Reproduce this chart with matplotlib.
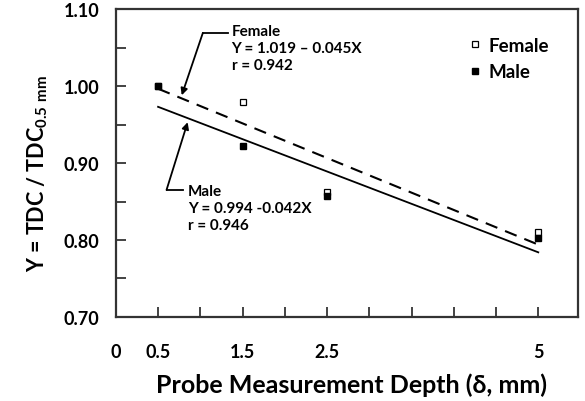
import numpy as np
import matplotlib
matplotlib.use('Agg')
import matplotlib.pyplot as plt

plt.rcParams['font.family'] = ['Lato', 'DejaVu Sans']
plt.rcParams['font.weight'] = 'bold'
plt.rcParams['mathtext.fontset'] = 'custom'
plt.rcParams['mathtext.rm'] = 'Lato'
plt.rcParams['mathtext.bf'] = 'Lato:bold'

# datos
depth = [0.5, 1.5, 2.5, 5]
female = [1.000, 0.979, 0.862, 0.810]
male = [1.000, 0.922, 0.857, 0.803]
female_fit = (1.019, -0.045)   # Y = a + bX
male_fit = (0.994, -0.042)
xtick_labels = {0: '0', 0.5: '0.5', 1.5: '1.5', 2.5: '2.5', 5: '5'}

fig = plt.figure(figsize=(5.85, 4.02), dpi=100)
ax = fig.add_axes([0.198, 0.209, 0.79, 0.766])

xx = np.array([depth[0], depth[-1]])
ax.plot(xx, female_fit[0] + female_fit[1] * xx, color='black', lw=1.5, ls=(0, (6, 4)))
ax.plot(xx, male_fit[0] + male_fit[1] * xx, color='black', lw=1.3)

ax.plot(depth, female, ls='none', marker='s', ms=4, mfc='white', mec='black', mew=0.9, label='Female')
ax.plot(depth, male, ls='none', marker='s', ms=4, mfc='black', mec='black', label='Male')

ax.set_xlim(0, 5.47)
ax.set_ylim(0.70, 1.10)
ticks = np.arange(0, 5.01, 0.5)
ax.set_xticks(ticks)
ax.set_xticklabels([xtick_labels.get(round(t, 1), '') for t in ticks], fontsize=13, fontweight='bold')
ax.set_yticks([0.70, 0.80, 0.90, 1.00, 1.10])
ax.set_yticklabels(['0.70', '0.80', '0.90', '1.00', '1.10'], fontsize=13, fontweight='bold')
ax.set_yticks([0.75, 0.85, 0.95, 1.05], minor=True)
ax.tick_params(axis='both', which='both', direction='in', length=7, width=1.2, color='#222222')
ax.tick_params(axis='x', pad=19)
ax.tick_params(axis='y', pad=12)
for s in ax.spines.values():
    s.set_color('#333333')
    s.set_linewidth(1.6)

ax.set_xlabel('Probe Measurement Depth (δ, mm)', fontsize=18, fontweight='bold', labelpad=9, x=0.51)
ax.set_ylabel(r'Y = TDC / TDC$_{\mathbf{0.5\ mm}}$', fontsize=15.5, fontweight='bold', labelpad=10, y=0.47)

# anotaciones
ax.text(1.37, 1.081, 'Female\nY = 1.019 \u2013 0.045X\nr = 0.942', fontsize=11, fontweight='bold',
        va='top', ha='left', linespacing=1.3)
ax.plot([1.33, 1.03], [1.069, 1.069], color='black', lw=1.3)
ax.annotate('', xy=(0.78, 0.988), xytext=(1.03, 1.069),
            arrowprops=dict(arrowstyle='-|>', color='black', lw=1.3, mutation_scale=10, shrinkA=0, shrinkB=0))

ax.text(0.85, 0.873, 'Male\nY = 0.994 -0.042X\nr = 0.946', fontsize=11, fontweight='bold',
        va='top', ha='left', linespacing=1.3)
ax.plot([0.80, 0.60], [0.865, 0.865], color='black', lw=1.3)
ax.annotate('', xy=(0.85, 0.953), xytext=(0.60, 0.865),
            arrowprops=dict(arrowstyle='-|>', color='black', lw=1.3, mutation_scale=10, shrinkA=0, shrinkB=0))

ax.legend(loc='upper left', bbox_to_anchor=(0.766, 0.91), frameon=False, handlelength=0.5,
          borderpad=0, borderaxespad=0, handletextpad=0.5, labelspacing=0.5,
          prop={'size': 13.5, 'weight': 'bold'})

fig.savefig('out.png', dpi=100)
